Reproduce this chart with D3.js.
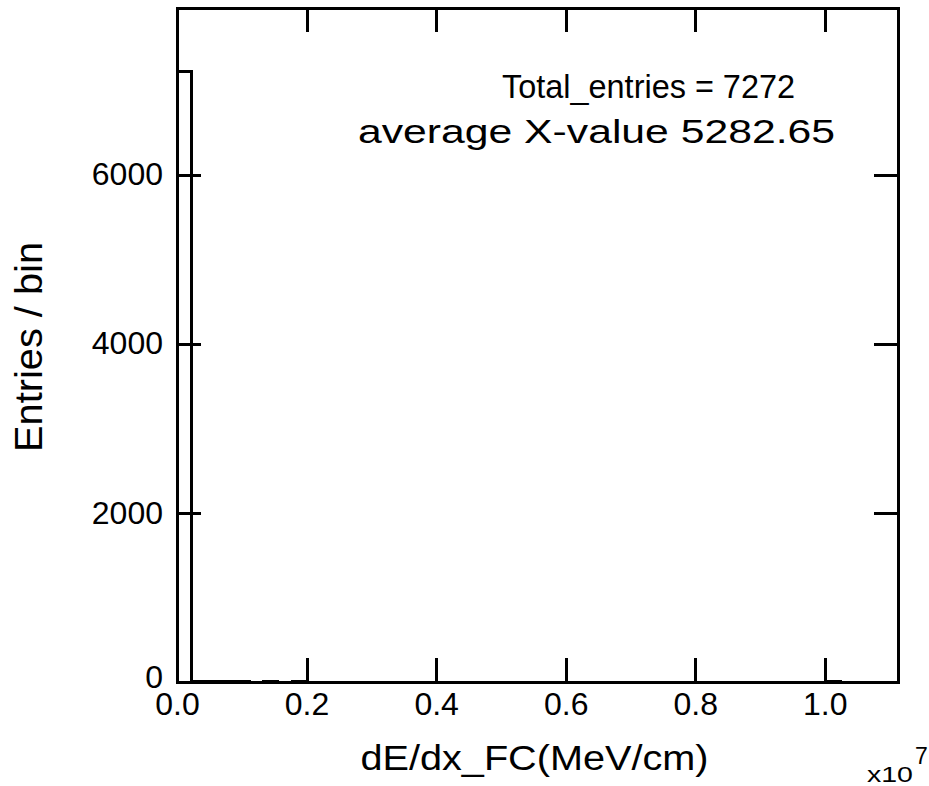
<!DOCTYPE html>
<html>
<head>
<meta charset="utf-8">
<script src="https://cdn.jsdelivr.net/npm/d3@7"></script>
<style>
  body { margin: 0; background: #fff; }
  svg { display: block; font-family: "Liberation Sans", Arial, sans-serif; }
</style>
</head>
<body>
<div id="chart"></div>
<script>
// histogram of dE/dx_FC, 50 bins over [0, xMax]
const xMax = 1.113e7;
const yMax = 7970;
const binCounts = [
  7220, 10, 10, 9, 8, 0, 7, 0, 6, 0,
  0, 0, 0, 0, 0, 0, 0, 0, 0, 0,
  0, 0, 0, 0, 0, 0, 0, 0, 0, 0,
  0, 0, 0, 0, 0, 0, 0, 0, 0, 0,
  0, 0, 0, 0, 0, 2, 0, 0, 0, 0
];
const xTicks = [0, 2e6, 4e6, 6e6, 8e6, 1e7];
const yTicks = [0, 2000, 4000, 6000];
const statLines = ["Total_entries = 7272", "average X-value 5282.65"];

const W = 929, H = 786;
const margin = {top: 8, right: 31, bottom: 104, left: 177};
const width = W - margin.left - margin.right;
const height = H - margin.top - margin.bottom;

const svg = d3.select("#chart").append("svg")
  .attr("width", W)
  .attr("height", H);

const g = svg.append("g")
  .attr("transform", `translate(${margin.left}, ${margin.top})`);

const x = d3.scaleLinear().domain([0, xMax]).range([0, width]);
const y = d3.scaleLinear().domain([0, yMax]).range([height, 0]);

const binW = xMax / binCounts.length;

// step outline of the histogram
const pts = [[x(0), y(0)]];
binCounts.forEach((c, i) => {
  pts.push([x(i * binW), y(c)]);
  pts.push([x((i + 1) * binW), y(c)]);
});
pts.push([x(xMax), y(0)]);

g.append("path")
  .attr("d", d3.line()(pts))
  .attr("fill", "none")
  .attr("stroke", "#000")
  .attr("stroke-width", 3)
  .attr("shape-rendering", "crispEdges");

const fmtX = d => (d / 1e7).toFixed(1);
const tick = 24;

function styleAxis(sel){
  sel.select(".domain").remove();
  sel.selectAll(".tick line")
    .attr("stroke", "#000")
    .attr("stroke-width", 3)
    .attr("shape-rendering", "crispEdges");
  sel.selectAll(".tick text")
    .attr("fill", "#000")
    .style("font-size", "32px");
}

g.append("g")
  .attr("transform", `translate(0, ${height})`)
  .call(d3.axisBottom(x).tickValues(xTicks).tickFormat(fmtX)
    .tickSizeInner(-tick).tickSizeOuter(0).tickPadding(10))
  .call(styleAxis);

g.append("g")
  .call(d3.axisTop(x).tickValues(xTicks).tickFormat("")
    .tickSizeInner(-tick).tickSizeOuter(0))
  .call(styleAxis);

g.append("g")
  .call(d3.axisLeft(y).tickValues(yTicks).tickFormat(d3.format("d"))
    .tickSizeInner(-tick).tickSizeOuter(0).tickPadding(14))
  .call(styleAxis)
  .selectAll(".tick text")
  .filter(d => d === 0)
  .attr("dy", "0.18em");

g.append("g")
  .attr("transform", `translate(${width}, 0)`)
  .call(d3.axisRight(y).tickValues(yTicks).tickFormat("")
    .tickSizeInner(-tick).tickSizeOuter(0))
  .call(styleAxis);

// frame
g.append("rect")
  .attr("width", width)
  .attr("height", height)
  .attr("fill", "none")
  .attr("stroke", "#000")
  .attr("stroke-width", 3)
  .attr("shape-rendering", "crispEdges");

// stats box text
g.append("text")
  .attr("x", 502 - margin.left)
  .attr("y", 98 - margin.top)
  .attr("textLength", 293)
  .attr("lengthAdjust", "spacingAndGlyphs")
  .style("font-size", "34px")
  .text(statLines[0]);

g.append("text")
  .attr("x", 358 - margin.left)
  .attr("y", 143 - margin.top)
  .attr("textLength", 477)
  .attr("lengthAdjust", "spacingAndGlyphs")
  .style("font-size", "34px")
  .text(statLines[1]);

// axis titles
svg.append("text")
  .attr("x", margin.left + width / 2 - 3)
  .attr("y", 770)
  .attr("text-anchor", "middle")
  .attr("textLength", 348)
  .attr("lengthAdjust", "spacingAndGlyphs")
  .style("font-size", "35px")
  .text("dE/dx_FC(MeV/cm)");

svg.append("text")
  .attr("transform", `translate(42, ${margin.top + height / 2 + 2}) rotate(-90)`)
  .attr("text-anchor", "middle")
  .attr("textLength", 210)
  .attr("lengthAdjust", "spacingAndGlyphs")
  .style("font-size", "38px")
  .text("Entries / bin");

// exponent label
svg.append("text")
  .attr("x", 867)
  .attr("y", 782)
  .attr("textLength", 46)
  .attr("lengthAdjust", "spacingAndGlyphs")
  .style("font-size", "22px")
  .text("x10");

svg.append("text")
  .attr("x", 915)
  .attr("y", 764)
  .style("font-size", "23px")
  .text("7");
</script>
</body>
</html>
